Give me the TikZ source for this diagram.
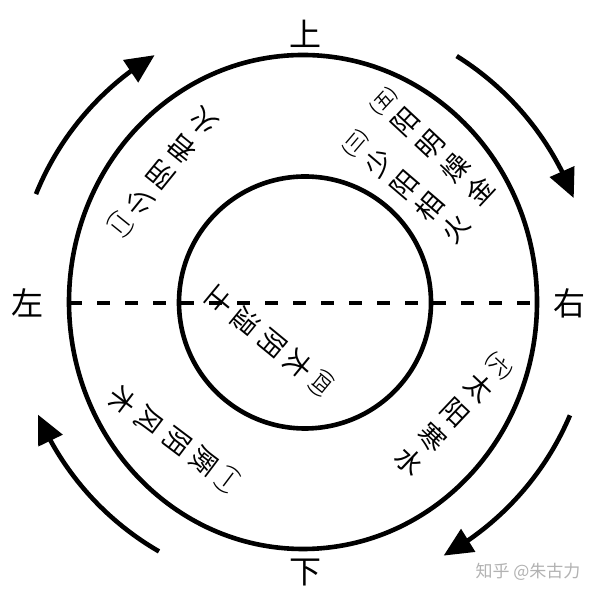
\documentclass[tikz,border=0pt]{standalone}
\usepackage{fontspec}
\newfontfamily\cjk{Noto Sans CJK SC}
\usetikzlibrary{arrows.meta,bending}
\newcommand\qnum[1]{{\fontsize{18}{34}\selectfont(#1)}}
\begin{document}
\begin{tikzpicture}[x=1pt,y=1pt,
  ring/.style={line width=4.6pt},
  midline/.style={line width=4pt, dash pattern=on 13pt off 15pt},
  lab/.style={font=\cjk\fontsize{27}{34}\selectfont, align=center, inner sep=0pt},
  side/.style={font=\cjk\fontsize{32}{32}\selectfont, inner sep=0pt},
  flow/.style={line width=4.6pt, -{Triangle[length=29pt,width=26pt]}},
  wm/.style={font=\cjk\fontsize{17}{17}\selectfont, text=black!30, inner sep=0pt}
]
\useasboundingbox (0,0) rectangle (600,601);
\fill[white] (0,0) rectangle (600,601);
% centres
\coordinate (O) at (303,299);
\coordinate (I) at (305,298.5);
% rings
\draw[ring] (O) ellipse [x radius=234, y radius=247];
\draw[ring] (I) circle [radius=126];
% dashed diameter
\coordinate (L) at (69,298);
\coordinate (R) at (537,298);
\draw[midline] (L) -- (R);
% side labels
\node[side] (up) at (305,567) {上};
\node[side] (down) at (305,28) {下};
\node[side] (left) at (27,298) {左};
\node[side] (right) at (569,298) {右};
% ring labels (vertical columns, rotated)
\node[lab, rotate=141] (l2) at (163,429) {\qnum{二}\\少\\阴\\君\\火};
\node[lab, rotate=49.5] (l3) at (407,414) {\qnum{三}\\少\\阳\\相\\火};
\node[lab, rotate=47] (l5) at (433,454) {\qnum{五}\\阳\\明\\燥\\金};
\node[lab, rotate=-43.4] (l6) at (453,186) {\qnum{六}\\太\\阳\\寒\\水};
\node[lab, rotate=-127] (l1) at (174,162) {\qnum{一}\\厥\\阴\\风\\木};
\node[lab, rotate=-129.4] (l4) at (270,260) {\qnum{四}\\太\\阴\\湿\\土};
% circulation arrows (clockwise)
\draw[flow] ([shift={(158:288)}]O) arc [start angle=158, end angle=121, radius=288];
\draw[flow] ([shift={(58:290)}]O) arc [start angle=58, end angle=21, radius=290];
\draw[flow] ([shift={(-23:290)}]O) arc [start angle=-23, end angle=-61, radius=290];
\draw[flow] ([shift={(-120:288)}]O) arc [start angle=-120, end angle=-157, radius=288];
% watermark
\node[wm] (wmark) at (528,29) {知乎 @朱古力};
\end{tikzpicture}
\end{document}
